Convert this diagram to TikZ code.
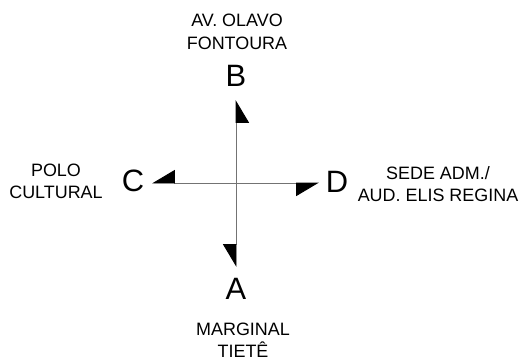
\documentclass[tikz,border=0pt]{standalone}
\usepackage{fontspec}
\setmainfont{Liberation Sans}
\usetikzlibrary{arrows.meta}
\begin{document}
\begin{tikzpicture}[x=1bp,y=-1bp,
  letter/.style={inner sep=0pt,font=\fontsize{31}{36}\selectfont},
  caption/.style={inner sep=0pt,align=center,font=\fontsize{18}{22.5}\selectfont},
  axis/.style={draw=black!55,line width=0.9bp,
    -{Triangle[harpoon,swap,length=22bp,width=26bp,color=black]}}]
\useasboundingbox (0,0) rectangle (524,360);
% crossing point and the four arrow tips
\coordinate (O) at (236,183);
\coordinate (tB) at (236,100);
\coordinate (tA) at (236,267);
\coordinate (tC) at (152,183);
\coordinate (tD) at (319,183);
% compass letters
\node[letter] (B) at (236,76) {B};
\node[letter] (A) at (236,289) {A};
\node[letter] (C) at (133,181) {C};
\node[letter] (D) at (337,182) {D};
% place names
\node[caption] (north) at (237,32) {AV. OLAVO\\FONTOURA};
\node[caption] (west) at (56,181.5) {POLO\\CULTURAL};
\node[caption] (east) at (438,184) {SEDE ADM./\\AUD. ELIS REGINA};
\node[caption] (south) at (243,340) {MARGINAL\\TIETÊ};
% the four half-headed arrows
\draw[axis] (O) -- (tB);
\draw[axis] (O) -- (tD);
\draw[axis] (O) -- (tA);
\draw[axis] (O) -- (tC);
\end{tikzpicture}
\end{document}
